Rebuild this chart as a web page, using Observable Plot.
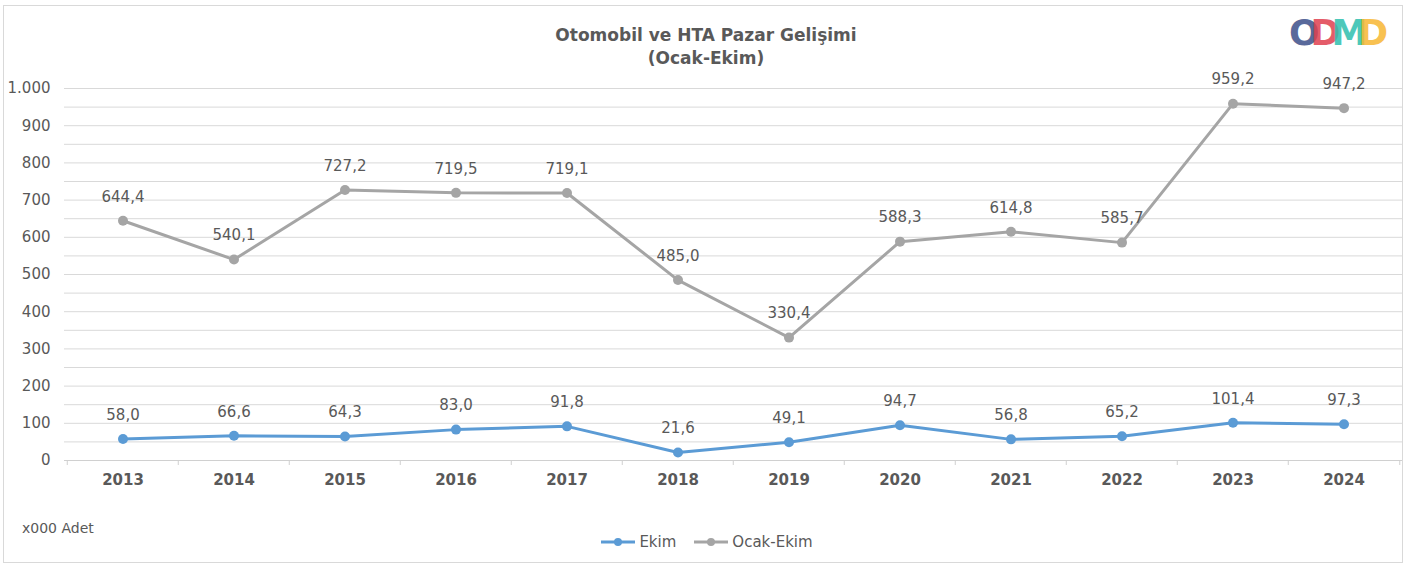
<!DOCTYPE html>
<html><head><meta charset="utf-8">
<script src="https://cdn.jsdelivr.net/npm/d3@7"></script>
<script src="https://cdn.jsdelivr.net/npm/@observablehq/plot@0.6"></script>
<style>
body{margin:0;background:#fff;font-family:"DejaVu Sans",sans-serif;}
#wrap{position:relative;width:1412px;height:566px;overflow:hidden;}
#frame{position:absolute;left:3px;top:5px;width:1398px;height:556px;border:1px solid #d9d9d9;}
#title{position:absolute;left:0;width:1412px;top:24px;text-align:center;font-weight:bold;font-size:17px;line-height:23px;color:#595959;}
#logo{position:absolute;left:1289px;top:12px;font-weight:bold;font-size:36px;letter-spacing:-9px;font-family:"DejaVu Sans",sans-serif;}
#logo span{opacity:0.85}
#unit{position:absolute;left:22px;top:520px;font-size:14px;color:#595959;}
#legend{position:absolute;left:0;width:1412px;top:533px;text-align:center;font-size:15px;color:#595959;}
#legend .it{display:inline-flex;align-items:center;margin:0 8px;}
#chart{position:absolute;left:0;top:0;}
</style></head>
<body>
<div id="wrap">
<div id="frame"></div>
<div id="chart"></div>
<div id="title">Otomobil ve HTA Pazar Gelişimi<br>(Ocak-Ekim)</div>
<div id="logo"><span style="color:#3d4f8a">O</span><span style="color:#e0404f">D</span><span style="color:#2fbfae">M</span><span style="color:#f7b733">D</span></div>
<div id="unit">x000 Adet</div>
<div id="legend"></div>
</div>
<script>
const years = ["2013","2014","2015","2016","2017","2018","2019","2020","2021","2022","2023","2024"];
const ekim = [58.0,66.6,64.3,83.0,91.8,21.6,49.1,94.7,56.8,65.2,101.4,97.3];
const ocakEkim = [644.4,540.1,727.2,719.5,719.1,485.0,330.4,588.3,614.8,585.7,959.2,947.2];
const seriesNames = ["Ekim","Ocak-Ekim"];
const seriesColors = ["#5b9bd5","#a5a5a5"];
const yTicks = [0,100,200,300,400,500,600,700,800,900,1000];
const gridTicks = [50,100,150,200,250,300,350,400,450,500,550,600,650,700,750,800,850,900,950,1000];

const data = [
  ...years.map((y,i)=>({year:y, value:ekim[i], series:"Ekim"})),
  ...years.map((y,i)=>({year:y, value:ocakEkim[i], series:"Ocak-Ekim"}))
];
const fmt = d3.formatLocale({decimal:",",thousands:".",grouping:[3],currency:["","₺"]});
const f1 = fmt.format(",.1f");
const f0 = fmt.format(",.0f");

const bw = (1402-64)/years.length;
const textColor = "#595959";

const chart = Plot.plot({
  width:1412, height:566,
  marginLeft:64, marginRight:10, marginTop:88, marginBottom:106,
  style:{fontFamily:"DejaVu Sans, sans-serif", fontSize:"15px", color:textColor, background:"transparent"},
  x:{type:"band", domain:years, padding:0},
  y:{domain:[0,1000]},
  color:{domain:seriesNames, range:seriesColors},
  marks:[
    Plot.ruleY(gridTicks, {stroke:"#d9d9d9", strokeWidth:1}),
    Plot.ruleY([0], {stroke:"#d0d0d0", strokeWidth:1}),
    Plot.ruleX(years, {x:d=>d, y1:0, y2:-13.5, dx:-bw/2, stroke:"#d0d0d0"}),
    Plot.ruleX(years.slice(-1), {x:d=>d, y1:0, y2:-13.5, dx:bw/2, stroke:"#d0d0d0"}),
    Plot.axisY({ticks:yTicks, tickFormat:f0, tickSize:0, tickPadding:14, fontSize:15, fill:textColor, label:null}),
    Plot.axisX({tickSize:0, tickPadding:14, fontSize:15, fontWeight:"bold", fill:textColor, label:null}),
    Plot.line(data, {x:"year", y:"value", z:"series", stroke:"series", strokeWidth:3}),
    Plot.dot(data, {x:"year", y:"value", fill:"series", r:5}),
    Plot.text(data, {x:"year", y:"value", text:d=>f1(d.value), dy:-24, fill:textColor, fontSize:15})
  ]
});
document.getElementById("chart").appendChild(chart);

const leg = document.getElementById("legend");
seriesNames.forEach((n,i)=>{
  const s = document.createElement("span"); s.className="it";
  s.innerHTML = `<svg width="38" height="12"><line x1="2" y1="6" x2="36" y2="6" stroke="${seriesColors[i]}" stroke-width="3"/><circle cx="19" cy="6" r="4" fill="${seriesColors[i]}"/></svg><span style="margin-left:2px">${n}</span>`;
  leg.appendChild(s);
});
</script>
</body></html>
